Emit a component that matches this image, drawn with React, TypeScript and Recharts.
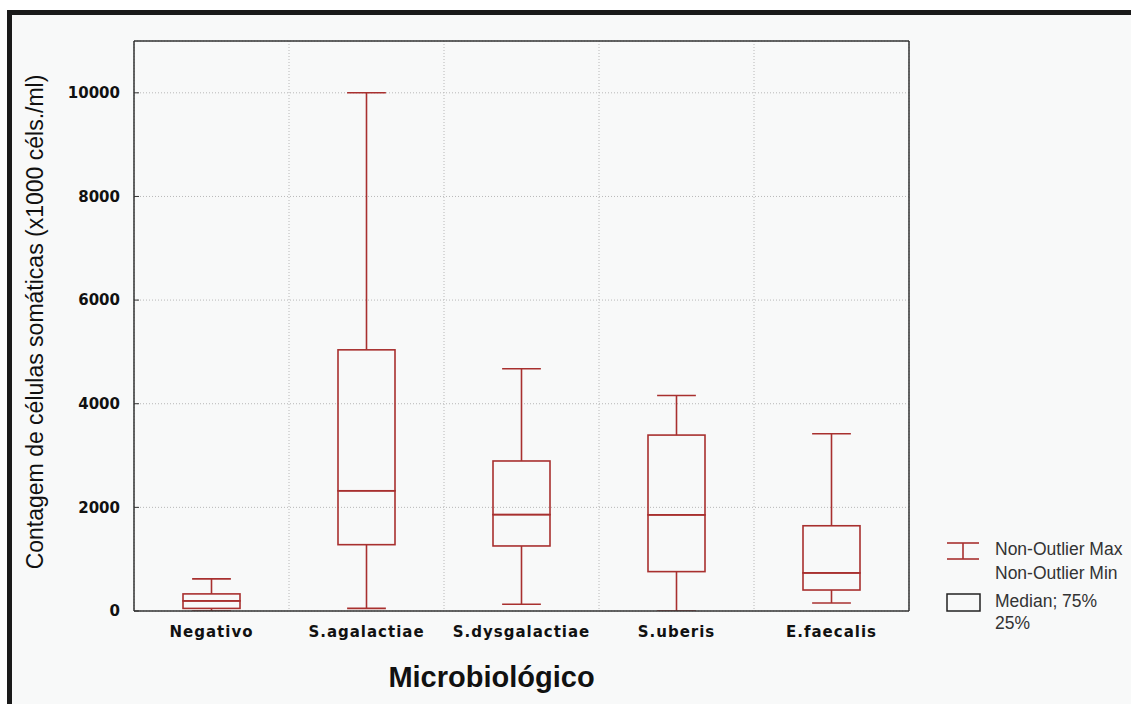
import { ComposedChart, Bar, XAxis, YAxis, CartesianGrid } from "recharts";

const categories = ["Negativo", "S.agalactiae", "S.dysgalactiae", "S.uberis", "E.faecalis"];
const minVals = [0, 50, 130, 0, 155];
const q1Vals = [50, 1280, 1255, 760, 405];
const medianVals = [195, 2320, 1860, 1855, 735];
const q3Vals = [330, 5040, 2895, 3395, 1645];
const maxVals = [620, 10000, 4675, 4160, 3420];
const yTicks = [0, 2000, 4000, 6000, 8000, 10000];
const gridTicks = [0, 1, 2, 3, 4, 5];

const RED = "#a8302f";
const FRAME = "#333";

// stacked segments: base -> lower whisker -> box (q1..median) -> box (median..q3) -> upper whisker
const data = categories.map((name, i) => ({
  name,
  base: minVals[i],
  lowWhisker: q1Vals[i] - minVals[i],
  boxLow: medianVals[i] - q1Vals[i],
  boxHigh: q3Vals[i] - medianVals[i],
  highWhisker: maxVals[i] - q3Vals[i],
}));

const Empty = () => <g />;

const LowWhisker = (p: any) => {
  const cx = p.x + p.width / 2;
  const cap = p.width * 0.34;
  const yb = p.y + p.height;
  return (
    <g stroke={RED} strokeWidth={1.6}>
      <line x1={cx} x2={cx} y1={p.y} y2={yb} />
      <line x1={cx - cap} x2={cx + cap} y1={yb} y2={yb} />
    </g>
  );
};

const HighWhisker = (p: any) => {
  const cx = p.x + p.width / 2;
  const cap = p.width * 0.34;
  return (
    <g stroke={RED} strokeWidth={1.6}>
      <line x1={cx} x2={cx} y1={p.y} y2={p.y + p.height} />
      <line x1={cx - cap} x2={cx + cap} y1={p.y} y2={p.y} />
    </g>
  );
};

const BoxPart = (p: any) => (
  <rect x={p.x} y={p.y} width={p.width} height={p.height} fill="none" stroke={RED} strokeWidth={1.6} />
);

const CatTick = (p: any) => (
  <text x={p.x} y={p.y} dy={11} textAnchor="middle" fill="#111"
    style={{ fontFamily: "DejaVu Sans", fontWeight: 700, fontSize: 15, letterSpacing: 1 }}>
    {p.payload.value}
  </text>
);

// vertical grid lines sit on the category boundaries, not the centres
const boundaryLines = ({ offset }: any) =>
  gridTicks.map((t) => offset.left + (t / categories.length) * offset.width);

const legendText: React.CSSProperties = {
  position: "absolute", fontFamily: "Liberation Sans, Arial", fontSize: 17.5, color: "#333", lineHeight: "17px",
};

export default function App() {
  return (
    <div style={{ position: "absolute", left: 0, top: 0, width: 1131, height: 704, background: "#fff" }}>
      <div style={{
        position: "absolute", left: 7, top: 10, width: 1124, height: 694, boxSizing: "border-box",
        background: "#f8f9f9", borderTop: "5px solid #1a1a1a", borderLeft: "5px solid #1a1a1a",
      }} />
      <div style={{ position: "absolute", left: 0, top: 0 }}>
        <ComposedChart width={1131} height={704} data={data}
          margin={{ top: 40, right: 221, bottom: 63, left: 74 }}>
          <CartesianGrid yAxisId="left" stroke="#b8b8b8" strokeDasharray="1 2"
            verticalCoordinatesGenerator={boundaryLines} />
          <XAxis xAxisId="cat" dataKey="name" type="category" height={30}
            tickLine={false} tickSize={0} tickMargin={15} tick={<CatTick />}
            axisLine={{ stroke: FRAME, strokeWidth: 1.5 }}
            label={{ value: "Microbiológico", position: "center", dx: -30, dy: 51, fill: "#111",
              style: { fontFamily: "Liberation Sans, Arial", fontWeight: 700, fontSize: 29 } }} />
          <XAxis xAxisId="top" dataKey="name" type="category" orientation="top" height={1}
            tick={false} tickLine={false} axisLine={{ stroke: FRAME, strokeWidth: 1.5 }} />
          <YAxis yAxisId="left" domain={[0, 11000]} ticks={yTicks} width={60} allowDataOverflow
            tickSize={-5} tickMargin={19} tickLine={{ stroke: FRAME }}
            axisLine={{ stroke: FRAME, strokeWidth: 1.5 }}
            tick={{ fill: "#111", fontFamily: "DejaVu Sans", fontWeight: 700, fontSize: 15 }}
            label={{ value: "Contagem de células somáticas (x1000 céls./ml)", angle: -90, position: "center",
              dx: -69, dy: -4, fill: "#111", style: { fontFamily: "Liberation Sans, Arial", fontSize: 23 } }} />
          <YAxis yAxisId="right" orientation="right" domain={[0, 11000]} ticks={yTicks} width={1}
            allowDataOverflow tick={false} tickSize={-5} tickLine={{ stroke: FRAME }}
            axisLine={{ stroke: FRAME, strokeWidth: 1.5 }} />
          <Bar xAxisId="cat" yAxisId="left" dataKey="base" stackId="b" barSize={57} shape={<Empty />} isAnimationActive={false} />
          <Bar xAxisId="cat" yAxisId="left" dataKey="lowWhisker" stackId="b" barSize={57} shape={<LowWhisker />} isAnimationActive={false} />
          <Bar xAxisId="cat" yAxisId="left" dataKey="boxLow" stackId="b" barSize={57} shape={<BoxPart />} isAnimationActive={false} />
          <Bar xAxisId="cat" yAxisId="left" dataKey="boxHigh" stackId="b" barSize={57} shape={<BoxPart />} isAnimationActive={false} />
          <Bar xAxisId="cat" yAxisId="left" dataKey="highWhisker" stackId="b" barSize={57} shape={<HighWhisker />} isAnimationActive={false} />
          <Bar xAxisId="top" yAxisId="right" dataKey="base" shape={<Empty />} isAnimationActive={false} />
        </ComposedChart>
      </div>
      {/* legend */}
      <svg style={{ position: "absolute", left: 0, top: 0 }} width={1131} height={704}>
        <g stroke={RED} strokeWidth={1.6}>
          <line x1={947} x2={979} y1={543} y2={543} />
          <line x1={947} x2={979} y1={559} y2={559} />
          <line x1={963} x2={963} y1={543} y2={559} />
        </g>
        <rect x={947} y={594} width={33} height={17} fill="none" stroke="#222" strokeWidth={1.5} />
      </svg>
      <div style={{ ...legendText, left: 995, top: 541 }}>Non-Outlier Max</div>
      <div style={{ ...legendText, left: 995, top: 565 }}>Non-Outlier Min</div>
      <div style={{ ...legendText, left: 995, top: 593 }}>Median; 75%</div>
      <div style={{ ...legendText, left: 995, top: 615 }}>25%</div>
    </div>
  );
}
